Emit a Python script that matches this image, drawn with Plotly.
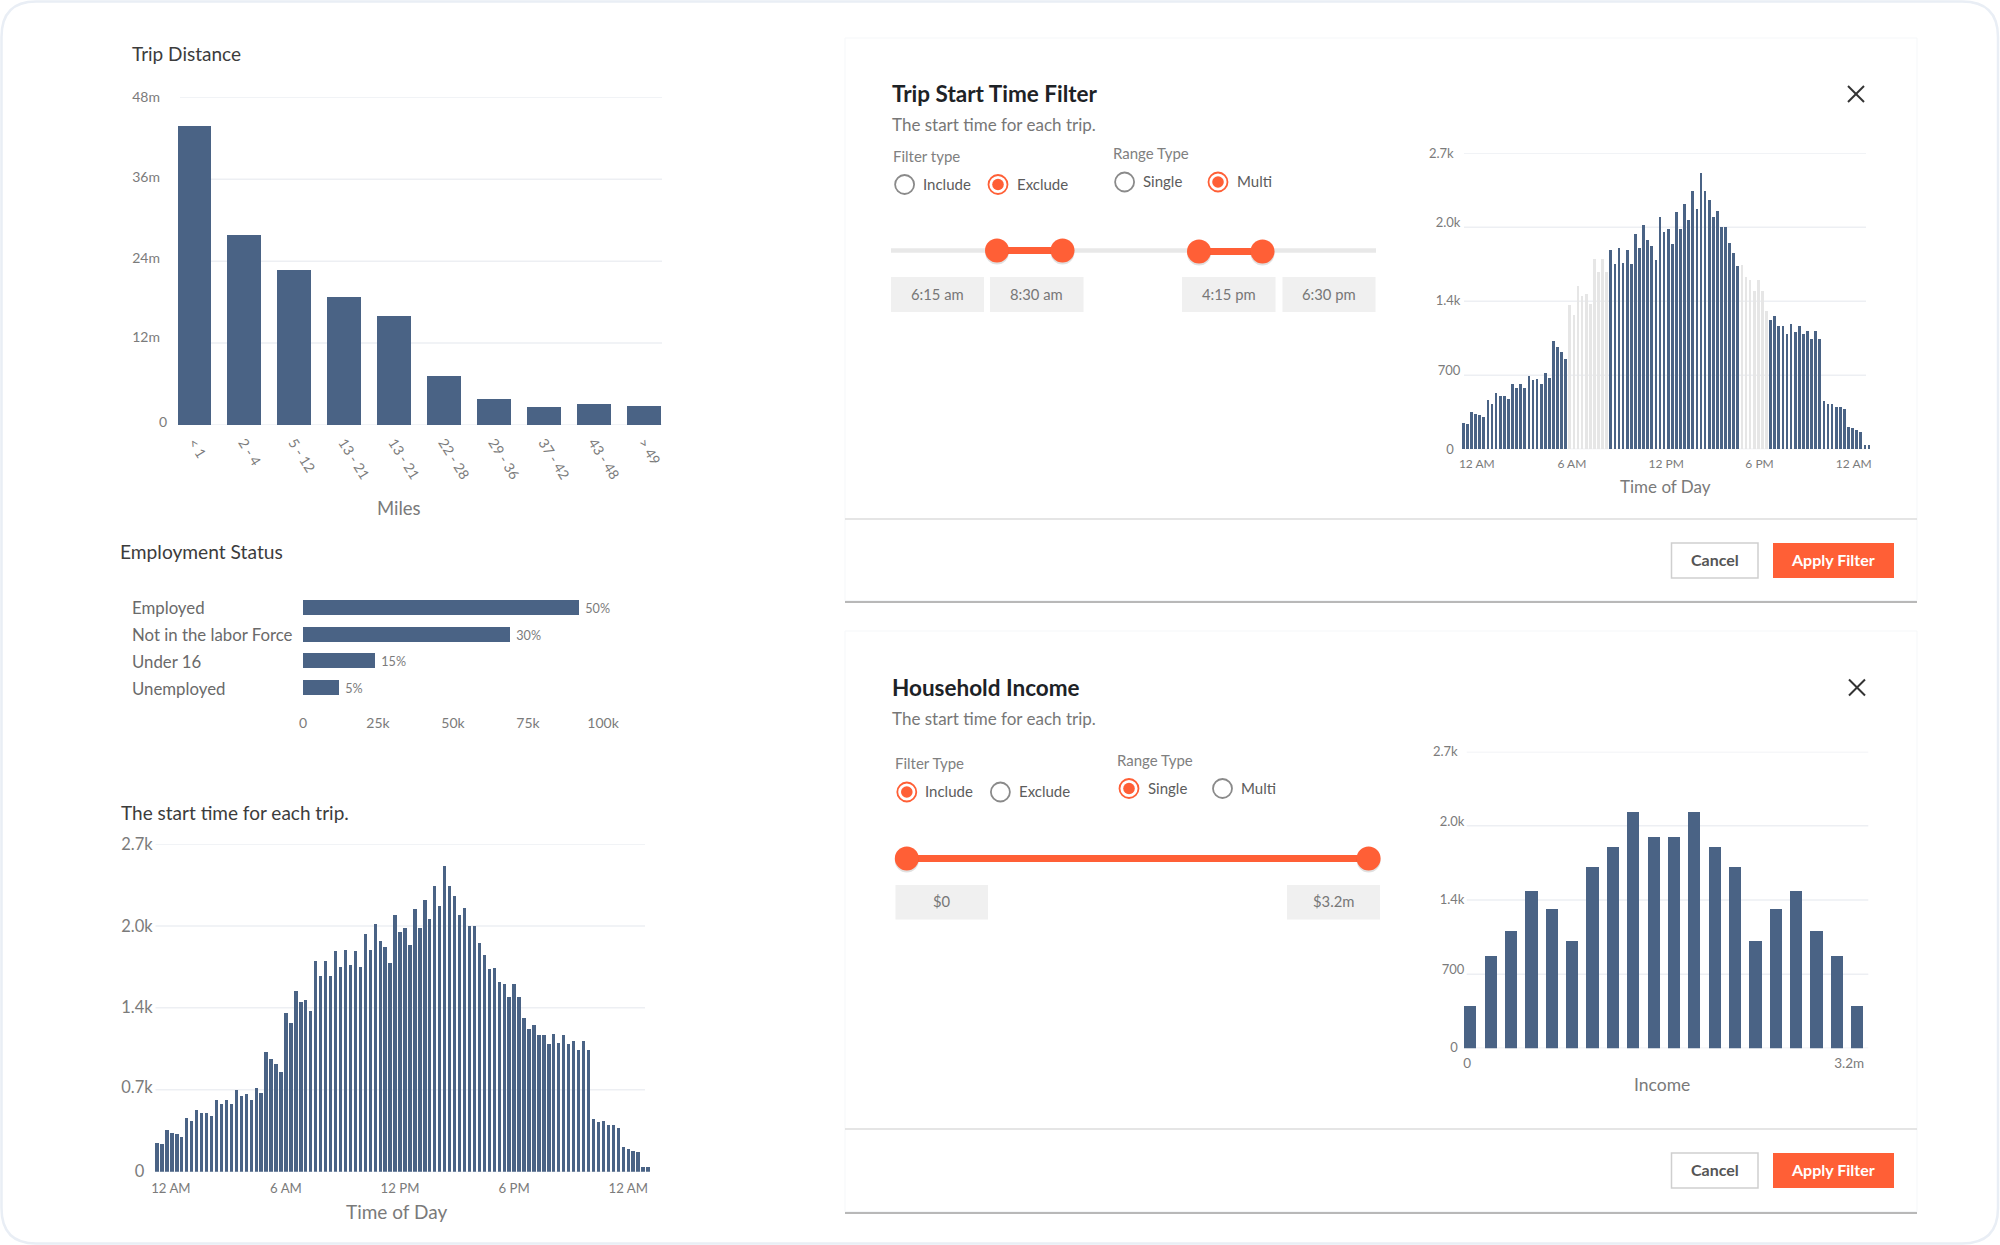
"""Trip dashboard with two filter cards."""
import plotly.graph_objects as go

W, H = 2000, 1245
FONT = "Lato"
NAVY = "#4a6385"
ORANGE = "#ff5f36"
GREY_BAR = "#e6e6e6"
GRID = "#edeff3"
TICK = "#7b7b7b"
LABEL = "#5c5c5c"
DARK = "#1d2226"

# ---------------------------------------------------------------------
# data
# ---------------------------------------------------------------------
distance_bins = ["< 1", "2 - 4", "5 - 12", "13 - 21", "13 - 21", "22 - 28",
                 "29 - 36", "37 - 42", "43 - 48", "> 49"]
distance_trips = [43.7, 27.8, 22.6, 18.65, 15.9, 7.2, 3.8, 2.6, 3.0, 2.7]
distance_ticks = [0, 12, 24, 36, 48]
distance_ticktext = ["0", "12m", "24m", "36m", "48m"]

employment_status = ["Employed", "Not in the labor Force", "Under 16", "Unemployed"]
employment_counts = [92, 69, 24, 12]
employment_share = ["50%", "30%", "15%", "5%"]
employment_ticks = [0, 25, 50, 75, 100]
employment_ticktext = ["0", "25k", "50k", "75k", "100k"]

start_time_counts = [
    233, 225, 341, 321, 310, 288, 445, 415, 511, 481,
    486, 459, 593, 555, 593, 555, 670, 626, 637, 593,
    689, 651, 989, 926, 884, 819, 1310, 1222, 1489, 1395,
    1415, 1321, 1733, 1615, 1733, 1615, 1818, 1689, 1829, 1700,
    1818, 1689, 1958, 1829, 2044, 1903, 1851, 1722, 2118, 1978,
    2011, 1870, 2162, 2011, 2236, 2085, 2354, 2192, 2519, 2354,
    2269, 2118, 2173, 2022, 2022, 1881, 1785, 1667, 1678, 1566,
    1544, 1437, 1544, 1437, 1263, 1178, 1211, 1126, 1126, 1052,
    1137, 1063, 1126, 1052, 1074, 1000, 1074, 1000, 434, 407,
    415, 385, 385, 363, 200, 190, 170, 159, 36, 36,
]
# bars switched off by the exclude filter
excluded_bars = [26, 27, 28, 29, 30, 31, 32, 33, 34, 35,
                 68, 69, 70, 71, 72, 73, 74]
count_ticks = [0, 675, 1350, 2025, 2700]
start_ticktext_left = ["0\u00a0\u00a0", "0.7k", "1.4k", "2.0k", "2.7k"]
start_ticktext_right = ["0\u00a0\u00a0", "700", "1.4k", "2.0k", "2.7k\u00a0\u00a0"]
time_ticktext = ["12 AM", "6 AM", "12 PM", "6 PM", "12 AM"]

income_counts = [385, 840, 1074, 1438, 1268, 980, 1650, 1832, 2151, 1926,
                 1926, 2151, 1832, 1650, 980, 1268, 1438, 1074, 840, 385]
income_ticktext = ["0\u00a0\u00a0", "700", "1.4k", "2.0k", "2.7k\u00a0\u00a0"]


def fx(x):
    return x / W


def fy(y):
    return 1 - y / H


shapes = []
annotations = []


def text(s, x, y, size, color=LABEL, anchor="left", bold=False):
    # annotations carry ~2px of padding on the left
    if anchor == "left":
        x -= 2.5
    annotations.append(dict(
        text="<b>%s</b>" % s if bold else s,
        x=fx(x), y=fy(y - 1), xref="paper", yref="paper",
        xanchor=anchor, yanchor="middle", showarrow=False,
        font=dict(family=FONT, size=size, color=color),
    ))


def rect(x0, y0, x1, y1, fill, line="rgba(0,0,0,0)", width=0):
    shapes.append(dict(
        type="rect", xref="paper", yref="paper", layer="below",
        x0=fx(x0), x1=fx(x1), y0=fy(y0), y1=fy(y1),
        fillcolor=fill, line=dict(color=line, width=width),
    ))


def circle(cx, cy, r, fill, line="rgba(0,0,0,0)", width=0):
    shapes.append(dict(
        type="circle", xref="paper", yref="paper", layer="below",
        x0=fx(cx - r), x1=fx(cx + r), y0=fy(cy - r), y1=fy(cy + r),
        fillcolor=fill, line=dict(color=line, width=width),
    ))


def seg(x0, y0, x1, y1, color, width):
    shapes.append(dict(
        type="line", xref="paper", yref="paper", layer="below",
        x0=fx(x0), x1=fx(x1), y0=fy(y0), y1=fy(y1),
        line=dict(color=color, width=width),
    ))


def grid(yref, values, x0, x1):
    """Gridlines stop short of the bars, so they can't be the axis grid."""
    for v in values:
        shapes.append(dict(
            type="line", xref="paper", yref=yref, layer="below",
            x0=fx(x0), x1=fx(x1), y0=v, y1=v,
            line=dict(color=GRID, width=1.5),
        ))


def radio(cx, cy, label, selected):
    if selected:
        circle(cx, cy, 9.5, "white", ORANGE, 1.8)
        circle(cx, cy, 5.8, ORANGE)
    else:
        circle(cx, cy, 9.5, "white", "#8a8a8a", 1.8)
    text(label, cx + 19, cy, 15)


def handle(cx, cy):
    circle(cx, cy + 2, 12, "rgba(0,0,0,0.12)")
    circle(cx, cy, 12, ORANGE)


def value_box(x0, y0, x1, y1, s):
    rect(x0, y0, x1, y1, "#f0f0f0")
    text(s, (x0 + x1) / 2, (y0 + y1) / 2, 14.8, "#777777", "center")


def close_icon(cx, cy):
    seg(cx - 8, cy - 8, cx + 8, cy + 8, "#333333", 2)
    seg(cx - 8, cy + 8, cx + 8, cy - 8, "#333333", 2)


def buttons(y0, y1):
    rect(1671.5, y0, 1758, y1, "white", "#cfcfcf", 1.5)
    text("<b>Cancel</b>", 1714.5, (y0 + y1) / 2, 16, "#555555", "center")
    rect(1773, y0, 1894, y1, ORANGE)
    text("<b>Apply Filter</b>", 1833, (y0 + y1) / 2, 16, "white", "center")


def card(y0, y1, divider):
    rect(845, y1 - 3, 1917, y1 + 2.5, "#b8b8b8")
    rect(845, y0, 1917, y1, "white", "#f5f7f9", 1)
    seg(845, divider, 1917, divider, "#dcdcdc", 1.5)


# page frame
shapes.append(dict(
    type="path", xref="paper", yref="paper", layer="below",
    path="M %f %f L %f %f Q %f %f %f %f L %f %f Q %f %f %f %f "
         "L %f %f Q %f %f %f %f L %f %f Q %f %f %f %f Z" % (
             fx(36), fy(1.5), fx(1962), fy(1.5), fx(1998), fy(1.5), fx(1998), fy(37),
             fx(1998), fy(1208), fx(1998), fy(1243.5), fx(1962), fy(1243.5),
             fx(36), fy(1243.5), fx(1.5), fy(1243.5), fx(1.5), fy(1208),
             fx(1.5), fy(37), fx(1.5), fy(1.5), fx(36), fy(1.5)),
    fillcolor="white", line=dict(color="#e9eef5", width=2.5),
))

# top card
card(38, 600.5, 519)
text("Trip Start Time Filter", 892, 95, 22.5, DARK, bold=True)
text("The start time for each trip.", 892, 125, 17, "#777777")
text("Filter type", 893, 156.5, 15, "#808080")
text("Range Type", 1113, 154, 15, "#808080")
radio(904.6, 184.5, "Include", False)
radio(998, 184.5, "Exclude", True)
radio(1124.6, 182, "Single", False)
radio(1218, 182, "Multi", True)
seg(891, 250.5, 1376, 250.5, "#e8e8e8", 4.5)
seg(997, 250.5, 1062.5, 250.5, ORANGE, 7)
seg(1199, 251.5, 1262.5, 251.5, ORANGE, 7)
for hx, hy in [(997, 250.5), (1062.5, 250.5), (1199, 251.5), (1262.5, 251.5)]:
    handle(hx, hy)
value_box(891, 277, 984, 312, "6:15 am")
value_box(990, 277, 1083.5, 312, "8:30 am")
value_box(1182, 277, 1275.5, 312, "4:15 pm")
value_box(1282.5, 277, 1375.5, 312, "6:30 pm")
close_icon(1856, 94)
buttons(543, 578)

# bottom card
card(631, 1211.5, 1129)
text("Household Income", 892.5, 688, 22.5, DARK, bold=True)
text("The start time for each trip.", 892.5, 719, 17, "#777777")
text("Filter Type", 895.5, 764, 15, "#808080")
text("Range Type", 1117.5, 760.5, 15, "#808080")
radio(906.8, 792, "Include", True)
radio(1000.4, 792, "Exclude", False)
radio(1129, 788.5, "Single", True)
radio(1222.5, 788.5, "Multi", False)
seg(906.8, 858.5, 1368.6, 858.5, ORANGE, 7)
handle(906.8, 858.5)
handle(1368.6, 858.5)
value_box(895.5, 885, 988, 919.5, "$0")
value_box(1287, 885, 1380, 919.5, "$3.2m")
close_icon(1857, 687.5)
buttons(1153, 1188)

# chart gridlines, drawn over the cards
grid("y", distance_ticks, 180, 662)
grid("y3", count_ticks, 155.5, 645)
grid("y4", count_ticks, 1464, 1866)
grid("y5", count_ticks, 1466.7, 1868.3)

# chart headings
text("Trip Distance", 132, 54.5, 19, "#3c3c3c")
text("Miles", 399, 509, 18.5, "#7a7a7a", "center")
text("Employment Status", 120, 552.5, 19.2, "#3c3c3c")
text("The start time for each trip.", 121, 813, 19, "#3c3c3c")
text("Time of Day", 396.5, 1212.5, 19, "#7a7a7a", "center")
text("Time of Day", 1665, 487, 17, "#7a7a7a", "center")
text("Income", 1662, 1085, 17.5, "#7a7a7a", "center")

for status in employment_status:
    annotations.append(dict(
        text=status, x=fx(129.5), y=status, xref="paper", yref="y2",
        xanchor="left", yanchor="middle", showarrow=False, yshift=-0.5,
        font=dict(family=FONT, size=16.8, color="#6a6a6a"),
    ))

fig = go.Figure()

fig.add_trace(go.Bar(
    x=list(range(len(distance_trips))), y=distance_trips, width=0.68,
    marker=dict(color=NAVY, line_width=0), xaxis="x", yaxis="y",
))
fig.add_trace(go.Bar(
    x=employment_counts, y=employment_status, orientation="h", width=0.56,
    marker=dict(color=NAVY, line_width=0), xaxis="x2", yaxis="y2",
    text=["\u00a0" + s for s in employment_share], textposition="outside", cliponaxis=False,
    textfont=dict(family=FONT, size=16, color=TICK),
))
fig.add_trace(go.Bar(
    x=list(range(len(start_time_counts))), y=start_time_counts, width=0.68,
    marker=dict(color=NAVY, line_width=0), xaxis="x3", yaxis="y3",
))
fig.add_trace(go.Bar(
    x=list(range(len(start_time_counts))), y=start_time_counts, width=0.66,
    marker=dict(color=[GREY_BAR if i in excluded_bars else NAVY
                       for i in range(len(start_time_counts))], line_width=0),
    xaxis="x4", yaxis="y4",
))
fig.add_trace(go.Bar(
    x=list(range(len(income_counts))), y=income_counts, width=0.6,
    marker=dict(color=NAVY, line_width=0), xaxis="x5", yaxis="y5",
))


def axis(domain, rng, tickvals=None, ticktext=None, size=14, anchor=None, ticklen=4,
         angle=0, standoff=0):
    ax = dict(
        domain=domain, range=rng, anchor=anchor, fixedrange=True,
        showgrid=False, zeroline=False, showline=False,
        tickfont=dict(family=FONT, size=size, color=TICK),
    )
    if tickvals is None:
        ax.update(showticklabels=False, ticks="")
    else:
        ax.update(tickmode="array", tickvals=tickvals, ticktext=ticktext,
                  ticks="outside", ticklen=ticklen, tickcolor="rgba(0,0,0,0)",
                  tickangle=angle, ticklabelstandoff=standoff)
    return ax


fig.update_layout(
    width=W, height=H, margin=dict(l=0, r=0, t=0, b=0, autoexpand=False),
    paper_bgcolor="white", plot_bgcolor="rgba(0,0,0,0)",
    showlegend=False, bargap=0, shapes=shapes, annotations=annotations,
    font=dict(family=FONT),
    # trip distance
    xaxis=axis([fx(178), fx(662)], [-0.316, 9.364], list(range(len(distance_bins))),
               distance_bins, 14, "y", 3, 58),
    # the picture's y labels sit a little above their gridlines
    yaxis=axis([fy(425), fy(97.3)], [0, 48], [0.4, 12.9, 24.4, 36.3, 48],
               ["0"] + [t + "\u00a0\u00a0" for t in distance_ticktext[1:]], 14, "x", 7),
    # employment status
    xaxis2=axis([fx(303), fx(603)], [0, 100], employment_ticks, employment_ticktext,
                14, "y2", 9),
    yaxis2=axis([fy(701), fy(594)], [3.5, -0.5], anchor="x2"),
    # start time, left
    xaxis3=axis([fx(155), fx(653)], [-0.403, 100], [2.8, 26, 49, 72, 95], time_ticktext,
                13.2, "y3", 4),
    yaxis3=axis([fy(1171.7), fy(844)], [0, 2700], [8, 692, 1356, 2025, 2700],
                start_ticktext_left, 16.5, "x3", 0, standoff=-2),
    # start time, filter card
    xaxis4=axis([fx(1461), fx(1871)], [-0.56, 99.5], [3.3, 26.5, 49.5, 72.3, 95.3],
                time_ticktext, 12, "y4", 3),
    yaxis4=axis([fy(449.3), fy(153.3)], [0, 2700], [3, 717, 1356, 2070, 2700],
                start_ticktext_right, 13, "x4", 0, standoff=-3),
    # income
    xaxis5=axis([fx(1464), fx(1872)], [-0.31, 19.72], [-0.16, 18.6], ["0", "3.2m"],
                13.5, "y5", 2),
    yaxis5=axis([fy(1048.3), fy(751.7)], [0, 2700], [9, 719, 1356, 2069, 2700],
                income_ticktext, 13, "x5", 0, standoff=-4),
)

fig.write_html(
    "out.html",
    config={"displayModeBar": False},
    post_script="document.body.style.margin='0';document.documentElement.style.overflow='hidden';",
)
